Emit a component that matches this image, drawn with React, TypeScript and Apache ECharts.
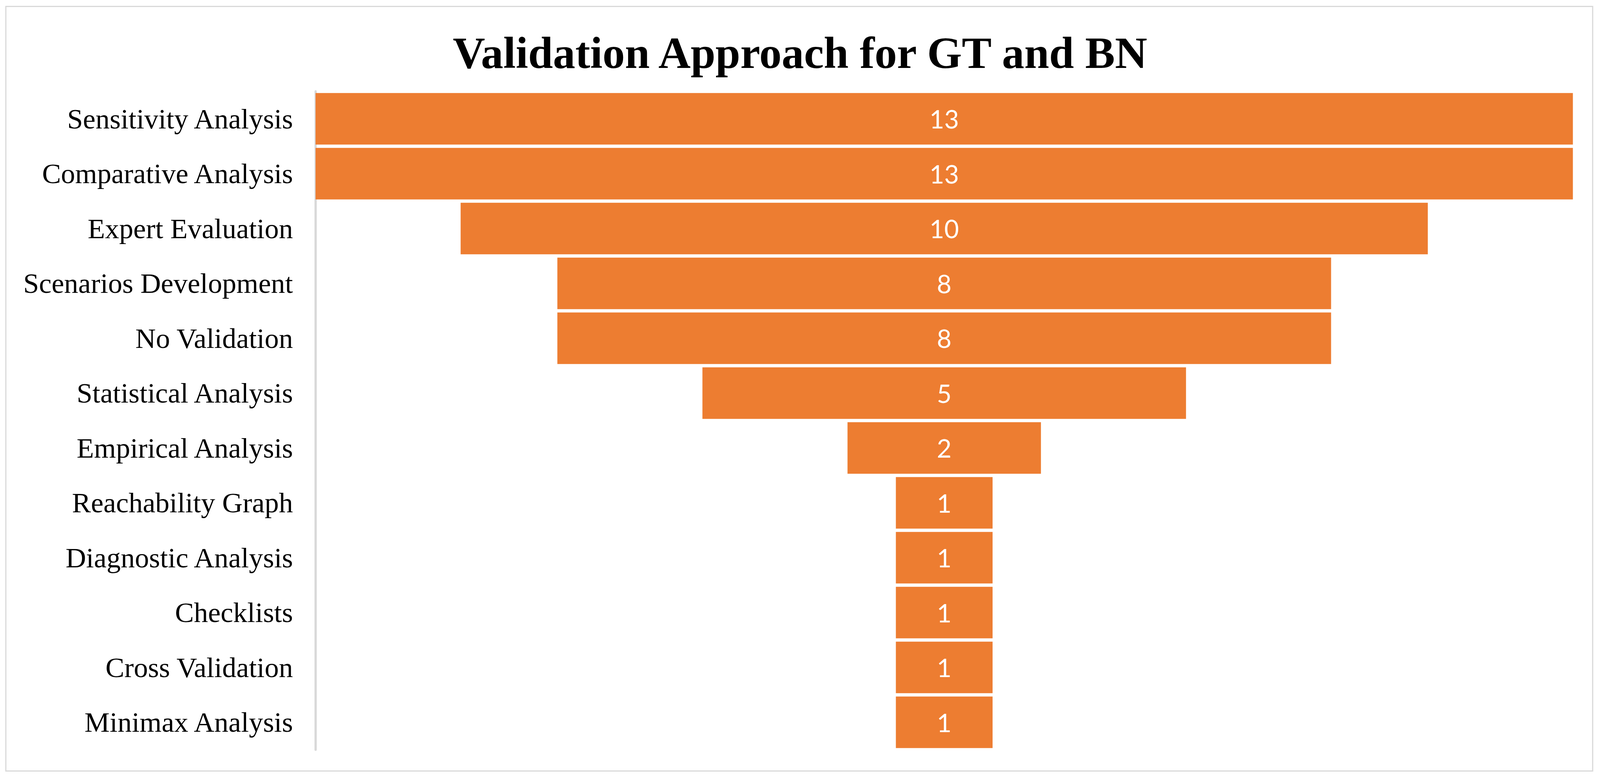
import React, { useEffect, useRef } from "react";
import * as echarts from "echarts";

const titleText = "Validation Approach for GT and BN";
const categories = [
  "Sensitivity Analysis",
  "Comparative Analysis",
  "Expert Evaluation",
  "Scenarios Development",
  "No Validation",
  "Statistical Analysis",
  "Empirical Analysis",
  "Reachability Graph",
  "Diagnostic Analysis",
  "Checklists",
  "Cross Validation",
  "Minimax Analysis",
];
const values = [13, 13, 10, 8, 8, 5, 2, 1, 1, 1, 1, 1];

const REF_W = 4249;
const REF_H = 1995;

export default function App() {
  const ref = useRef<HTMLDivElement>(null);
  useEffect(() => {
    if (!ref.current) return;
    const el = ref.current;
    const W = el.clientWidth || REF_W;
    const H = el.clientHeight || REF_H;
    const sx = W / REF_W;
    const sy = H / REF_H;
    const chart = echarts.init(el, undefined, { renderer: "svg" });
    const maxV = Math.max(...values);
    const offsets = values.map((v) => (maxV - v) / 2);
    const titleSize = 114.3 * sy;
    chart.setOption({
      animation: false,
      backgroundColor: "#ffffff",
      title: {
        text: titleText,
        left: "center",
        top: 73 * sy + (116 * sy - titleSize) / 2,
        textStyle: {
          fontFamily: "Liberation Serif",
          fontWeight: "bold",
          fontSize: titleSize,
          color: "#000000",
        },
      },
      graphic: [
        {
          type: "rect",
          shape: { x: 15.5 * sx, y: 16.5 * sy, width: 4214 * sx, height: 1958 * sy },
          style: { fill: "none", stroke: "#d9d9d9", lineWidth: 3 },
          silent: true,
        },
      ],
      grid: {
        left: 838 * sx,
        right: 72 * sx,
        top: 234 * sy,
        bottom: 75 * sy,
        containLabel: false,
      },
      xAxis: { type: "value", min: 0, max: maxV, show: false },
      yAxis: {
        type: "category",
        inverse: true,
        data: categories,
        offset: 3 * sx,
        axisLine: { show: true, lineStyle: { color: "#d9d9d9", width: 6 * sx } },
        axisTick: { show: false },
        splitLine: { show: false },
        axisLabel: {
          fontFamily: "Liberation Serif",
          fontSize: 72.5 * sy,
          color: "#000000",
          margin: 57 * sx,
        },
      },
      series: [
        {
          type: "bar",
          stack: "f",
          data: offsets,
          itemStyle: { color: "transparent" },
          barCategoryGap: "6%",
          silent: true,
        },
        {
          type: "bar",
          stack: "f",
          data: values,
          barCategoryGap: "6%",
          itemStyle: { color: "#ED7D31" },
          label: {
            show: true,
            position: "inside",
            color: "#ffffff",
            fontFamily: "Lato",
            fontSize: 65 * sy,
          },
        },
      ],
    });
    return () => chart.dispose();
  }, []);
  return (
    <div
      ref={ref}
      style={{ position: "fixed", left: 0, top: 0, width: "100vw", height: "100vh" }}
    />
  );
}
